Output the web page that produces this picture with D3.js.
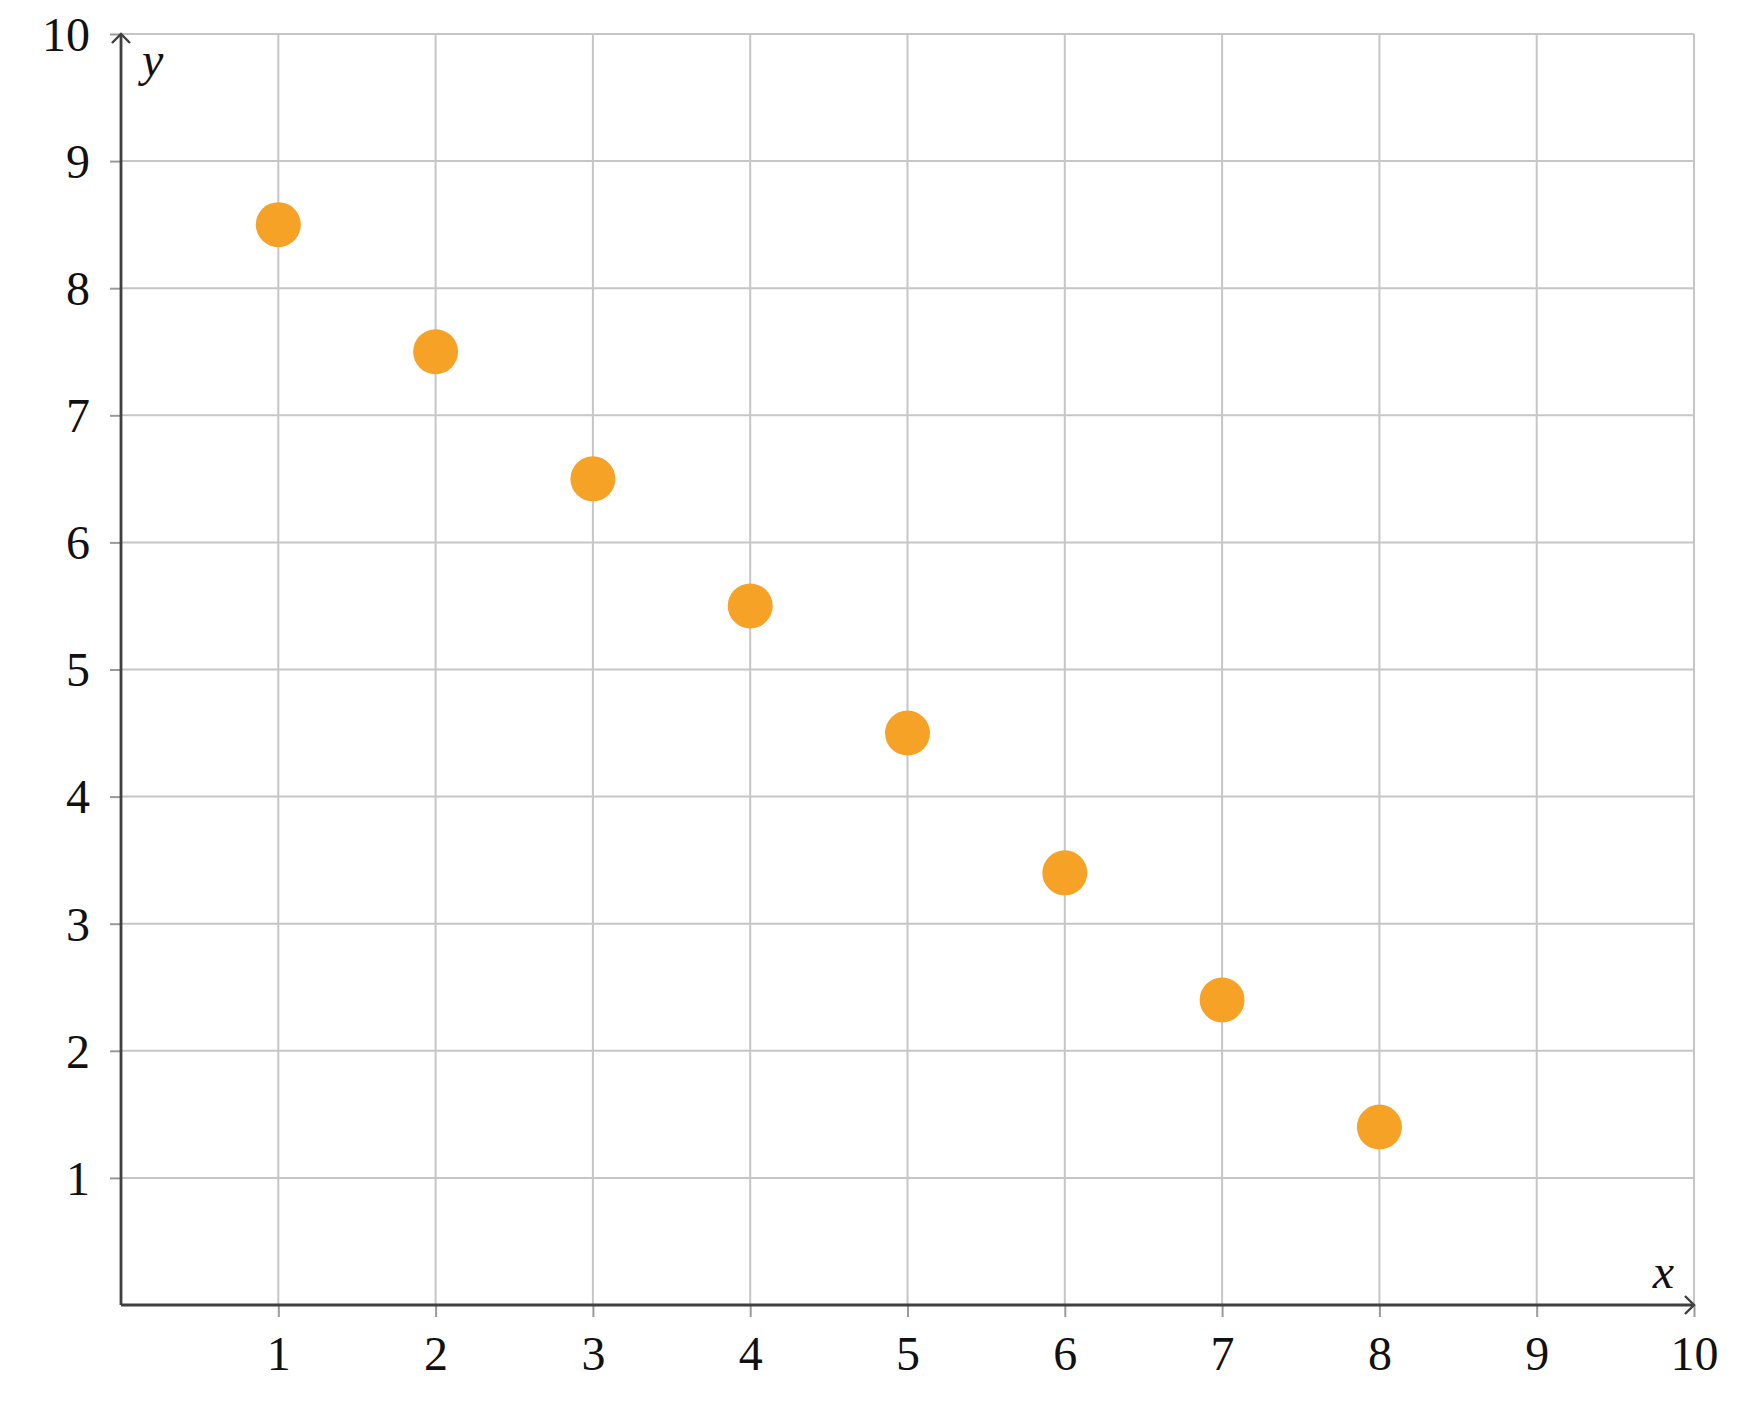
<!DOCTYPE html>
<html>
<head>
<meta charset="utf-8">
<style>
  body { margin: 0; background: #fff; }
  text { font-family: "Liberation Serif", "DejaVu Serif", serif; fill: #111; }
</style>
</head>
<body>
<svg id="chart"></svg>
<script src="https://d3js.org/d3.v7.min.js"></script>
<script>
  const xValues = [1, 2, 3, 4, 5, 6, 7, 8];
  const yValues = [8.5, 7.5, 6.5, 5.5, 4.5, 3.4, 2.4, 1.4];
  const xTicks = [1, 2, 3, 4, 5, 6, 7, 8, 9, 10];
  const yTicks = [1, 2, 3, 4, 5, 6, 7, 8, 9, 10];

  const width = 1754, height = 1412;
  const plotLeft = 121, plotRight = 1694, plotTop = 34, plotBottom = 1305;

  const svg = d3.select('#chart').attr('width', width).attr('height', height);

  const x = d3.scaleLinear().domain([0, 10]).range([plotLeft, plotRight]);
  const y = d3.scaleLinear().domain([0, 10]).range([plotBottom, plotTop]);

  // grid
  svg.append('g').selectAll('line')
    .data(xTicks).join('line')
    .attr('x1', d => x(d)).attr('x2', d => x(d))
    .attr('y1', y(0)).attr('y2', y(10))
    .attr('stroke', '#c6c6c6').attr('stroke-width', 2);
  svg.append('g').selectAll('line')
    .data(yTicks).join('line')
    .attr('x1', x(0)).attr('x2', x(10))
    .attr('y1', d => y(d)).attr('y2', d => y(d))
    .attr('stroke', '#c6c6c6').attr('stroke-width', 2);

  // axes (ticks + labels)
  const xAxis = svg.append('g')
    .attr('transform', `translate(0,${plotBottom})`)
    .call(d3.axisBottom(x).tickValues(xTicks).tickSize(12).tickPadding(19).tickFormat(d3.format('d')));
  const yAxis = svg.append('g')
    .attr('transform', `translate(${plotLeft},0)`)
    .call(d3.axisLeft(y).tickValues(yTicks).tickSize(11).tickPadding(20).tickFormat(d3.format('d')));
  [xAxis, yAxis].forEach(g => {
    g.select('.domain').remove();
    g.selectAll('.tick line').attr('stroke', '#9a9a9a').attr('stroke-width', 2);
    g.selectAll('.tick text')
      .style('font-family', '"Liberation Serif", serif')
      .style('font-size', '48px')
      .attr('fill', '#111');
  });
  xAxis.selectAll('.tick text').attr('dy', '0.71em');
  yAxis.selectAll('.tick text').attr('dy', '0.34em');

  // axis lines with arrow heads
  const axisColor = '#404040';
  svg.append('path')
    .attr('d', `M${x(0)},${y(0)}H${x(10)}M${x(0)},${y(0)}V${y(10)}`)
    .attr('fill', 'none').attr('stroke', axisColor).attr('stroke-width', 2.8);
  svg.append('path')
    .attr('d', `M${x(10) - 9},${y(0) - 9}L${x(10)},${y(0)}L${x(10) - 9},${y(0) + 9}`)
    .attr('fill', 'none').attr('stroke', axisColor).attr('stroke-width', 2.4);
  svg.append('path')
    .attr('d', `M${x(0) - 9},${y(10) + 9}L${x(0)},${y(10)}L${x(0) + 9},${y(10) + 9}`)
    .attr('fill', 'none').attr('stroke', axisColor).attr('stroke-width', 2.4);

  svg.append('text').text('x')
    .attr('x', x(10) - 20).attr('y', y(0) - 17)
    .attr('text-anchor', 'end')
    .style('font-style', 'italic').style('font-size', '48px');
  svg.append('text').text('y')
    .attr('x', x(0) + 21).attr('y', y(10) + 42)
    .style('font-style', 'italic').style('font-size', '48px');

  // points
  svg.append('g').selectAll('circle')
    .data(xValues.map((d, i) => [d, yValues[i]])).join('circle')
    .attr('cx', d => x(d[0])).attr('cy', d => y(d[1]))
    .attr('r', 22.5)
    .attr('fill', '#f6a227');
</script>
</body>
</html>
